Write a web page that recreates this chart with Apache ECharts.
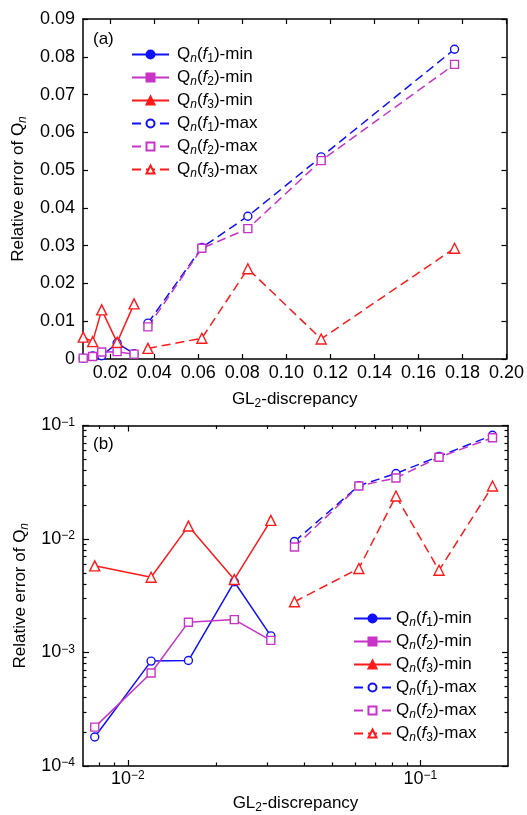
<!DOCTYPE html>
<html>
<head>
<meta charset="utf-8">
<script src="https://cdn.jsdelivr.net/npm/echarts@6/dist/echarts.min.js"></script>
<style>
  html, body { margin: 0; padding: 0; background: #fff; }
  #chart { width: 527px; height: 815px; }
</style>
</head>
<body>
<div id="chart"></div>
<script>
// GL2-discrepancy of the point sets (min group and max group)
const discMin = [0.0077, 0.0120, 0.0161, 0.0231, 0.0308];
const discMax = [0.0371, 0.0616, 0.0825, 0.1158, 0.1764];

// Relative error of Q_n for the three test functions
const f1Min = [0.00018, 0.00084, 0.00085, 0.0042, 0.0014];
const f2Min = [0.00022, 0.00066, 0.00185, 0.00195, 0.00128];
const f3Min = [0.0058, 0.0046, 0.0130, 0.0044, 0.0146];
const f1Max = [0.0095, 0.0295, 0.0378, 0.0535, 0.082];
const f2Max = [0.0085, 0.0293, 0.0345, 0.0525, 0.078];
const f3Max = [0.0028, 0.0055, 0.0239, 0.0053, 0.0293];

// Tick values
const linTicksX = [0.02, 0.04, 0.06, 0.08, 0.10, 0.12, 0.14, 0.16, 0.18, 0.20];
const logMajorX = [0.01, 0.1];
const logMajorY = [0.0001, 0.001, 0.01, 0.1];
const logMinorX = [0.008, 0.009, 0.02, 0.03, 0.04, 0.05, 0.06, 0.07, 0.08, 0.09];
const logMinorY = [0.0002, 0.0003, 0.0004, 0.0005, 0.0006, 0.0007, 0.0008, 0.0009,
                   0.002, 0.003, 0.004, 0.005, 0.006, 0.007, 0.008, 0.009,
                   0.02, 0.03, 0.04, 0.05, 0.06, 0.07, 0.08, 0.09];

const BLUE = '#1010ff', MAG = '#c833c8', RED = '#ff1a1a';
const FONT = '"Liberation Sans", Arial, sans-serif';

const seriesDefs = [
  { name: 'f1min', x: discMin, y: f1Min, color: BLUE, symbol: 'circle', size: 8, dashed: false, fn: '1', kind: 'min' },
  { name: 'f2min', x: discMin, y: f2Min, color: MAG, symbol: 'rect', size: 8, dashed: false, fn: '2', kind: 'min' },
  { name: 'f3min', x: discMin, y: f3Min, color: RED, symbol: 'triangle', size: 10, dashed: false, fn: '3', kind: 'min' },
  { name: 'f1max', x: discMax, y: f1Max, color: BLUE, symbol: 'circle', size: 8, dashed: true, fn: '1', kind: 'max' },
  { name: 'f2max', x: discMax, y: f2Max, color: MAG, symbol: 'rect', size: 8, dashed: true, fn: '2', kind: 'max' },
  { name: 'f3max', x: discMax, y: f3Max, color: RED, symbol: 'triangle', size: 10, dashed: true, fn: '3', kind: 'max' }
];

const rich = {
  ni: { fontSize: 12, fontStyle: 'italic', fontFamily: FONT, color: '#000', verticalAlign: 'bottom', lineHeight: 12 },
  s:  { fontSize: 12, fontFamily: FONT, color: '#000', verticalAlign: 'bottom', lineHeight: 12 },
  it: { fontSize: 17, fontStyle: 'italic', fontFamily: FONT, color: '#000', lineHeight: 21 },
  sup: { fontSize: 12, fontFamily: FONT, color: '#000', verticalAlign: 'top', lineHeight: 12 }
};
const baseText = { fontSize: 17, fontFamily: FONT, color: '#000', lineHeight: 21, rich: rich };
const tickText = { fontSize: 18, fontFamily: FONT, color: '#000' };

function legendLabel(name) {
  const d = seriesDefs.find(s => s.name === name);
  return 'Q{ni|n}({it|f}{s|' + d.fn + '})-' + d.kind;
}

function buildSeries(xi, yi) {
  return seriesDefs.map(d => ({
    name: d.name,
    type: 'line',
    xAxisIndex: xi,
    yAxisIndex: yi,
    data: d.x.map((v, i) => [v, d.y[i]]),
    symbol: d.symbol,
    symbolSize: d.size,
    showSymbol: true,
    animation: false,
    lineStyle: { color: d.color, width: 1.5, type: d.dashed ? [9, 5] : 'solid' },
    itemStyle: { color: '#fff', borderColor: d.color, borderWidth: 1.4 },
    emphasis: { disabled: true }
  }));
}

function legendData() {
  return seriesDefs.map(d => d.kind === 'min'
    ? { name: d.name, itemStyle: { color: d.color, borderColor: d.color } }
    : { name: d.name });
}

const tickBase = { show: true, inside: true, lineStyle: { color: '#000', width: 1.2 } };
const lineBase = { show: true, onZero: false, lineStyle: { color: '#000', width: 1.5 } };

// Panel (a): linear axes
const xA = {
  type: 'value', gridIndex: 0, min: 0.0076, max: 0.2, position: 'bottom',
  axisLine: lineBase,
  axisTick: Object.assign({}, tickBase, { length: 5, customValues: linTicksX }),
  axisLabel: Object.assign({ customValues: linTicksX, margin: 5, formatter: v => v.toFixed(2) }, tickText),
  splitLine: { show: false },
  name: 'GL{s|2}-discrepancy', nameLocation: 'middle', nameGap: 30, nameTextStyle: baseText
};
const xAtop = {
  type: 'value', gridIndex: 0, min: 0.0076, max: 0.2, position: 'top',
  axisLine: lineBase,
  axisTick: Object.assign({}, tickBase, { length: 5, customValues: linTicksX }),
  axisLabel: { show: false }, splitLine: { show: false }
};
const yA = {
  type: 'value', gridIndex: 0, min: 0, max: 0.09, interval: 0.01, position: 'left',
  axisLine: lineBase,
  axisTick: Object.assign({}, tickBase, { length: 5 }),
  axisLabel: Object.assign({ margin: 8, formatter: v => v === 0 ? '0' : v.toFixed(2) }, tickText),
  splitLine: { show: false },
  name: 'Relative error of Q{ni|n}', nameLocation: 'middle', nameGap: 54, nameTextStyle: baseText
};
const yAright = {
  type: 'value', gridIndex: 0, min: 0, max: 0.09, interval: 0.01, position: 'right',
  axisLine: lineBase,
  axisTick: Object.assign({}, tickBase, { length: 5 }),
  axisLabel: { show: false }, splitLine: { show: false }
};

// Panel (b): logarithmic axes
const X_LOG_MIN = 0.00702, X_LOG_MAX = 0.1993;
const supFmt = v => {
  const e = Math.round(Math.log10(v));
  return '10{sup|\u2212' + Math.abs(e) + '}';
};
const xB = {
  type: 'log', logBase: 10, gridIndex: 1, min: X_LOG_MIN, max: X_LOG_MAX, position: 'bottom',
  axisLine: lineBase,
  axisTick: Object.assign({}, tickBase, { length: 6, customValues: logMajorX }),
  axisLabel: Object.assign({ customValues: logMajorX, margin: 4, formatter: supFmt, rich: rich }, tickText),
  splitLine: { show: false },
  name: 'GL{s|2}-discrepancy', nameLocation: 'middle', nameGap: 27, nameTextStyle: baseText
};
const xBtop = {
  type: 'log', logBase: 10, gridIndex: 1, min: X_LOG_MIN, max: X_LOG_MAX, position: 'top',
  axisLine: lineBase,
  axisTick: Object.assign({}, tickBase, { length: 6, customValues: logMajorX }),
  axisLabel: { show: false }, splitLine: { show: false }
};
const xBminor = pos => ({
  type: 'log', logBase: 10, gridIndex: 1, min: X_LOG_MIN, max: X_LOG_MAX, position: pos,
  axisLine: { show: false },
  axisTick: Object.assign({}, tickBase, { length: 3.5, customValues: logMinorX }),
  axisLabel: { show: false }, splitLine: { show: false }
});
const yB = {
  type: 'log', logBase: 10, gridIndex: 1, min: 0.0001, max: 0.1, position: 'left',
  axisLine: lineBase,
  axisTick: Object.assign({}, tickBase, { length: 6, customValues: logMajorY }),
  axisLabel: Object.assign({ customValues: logMajorY, margin: 8, formatter: supFmt, rich: rich }, tickText),
  splitLine: { show: false },
  name: 'Relative error of Q{ni|n}', nameLocation: 'middle', nameGap: 50, nameTextStyle: baseText
};
const yBright = {
  type: 'log', logBase: 10, gridIndex: 1, min: 0.0001, max: 0.1, position: 'right',
  axisLine: lineBase,
  axisTick: Object.assign({}, tickBase, { length: 6, customValues: logMajorY }),
  axisLabel: { show: false }, splitLine: { show: false }
};
const yBminor = pos => ({
  type: 'log', logBase: 10, gridIndex: 1, min: 0.0001, max: 0.1, position: pos,
  axisLine: { show: false },
  axisTick: Object.assign({}, tickBase, { length: 3.5, customValues: logMinorY }),
  axisLabel: { show: false }, splitLine: { show: false }
});

const legendBase = {
  orient: 'vertical',
  itemWidth: 37,
  itemHeight: 10,
  itemGap: 2,
  selectedMode: false,
  formatter: legendLabel,
  textStyle: baseText,
  data: legendData()
};

const option = {
  animation: false,
  backgroundColor: '#fff',
  grid: [
    { left: 83, width: 425, top: 19, height: 340 },
    { left: 83, width: 425, top: 425.5, height: 342.5 }
  ],
  xAxis: [xA, xAtop, xB, xBtop, xBminor('bottom'), xBminor('top')],
  yAxis: [yA, yAright, yB, yBright, yBminor('left'), yBminor('right')],
  legend: [
    Object.assign({}, legendBase, { left: 126, top: 39, textStyle: Object.assign({}, baseText, { padding: [0, 0, 0, 3] }) }),
    Object.assign({}, legendBase, { left: 348, top: 603 })
  ],
  graphic: [
    { type: 'text', left: 93, top: 31, style: { text: '(a)', fontSize: 17, fontFamily: FONT, fill: '#000' } },
    { type: 'text', left: 93, top: 436, style: { text: '(b)', fontSize: 17, fontFamily: FONT, fill: '#000' } }
  ],
  series: buildSeries(0, 0).concat(buildSeries(2, 2))
};

const chart = echarts.init(document.getElementById('chart'), null, { renderer: 'canvas' });
chart.setOption(option);
</script>
</body>
</html>
